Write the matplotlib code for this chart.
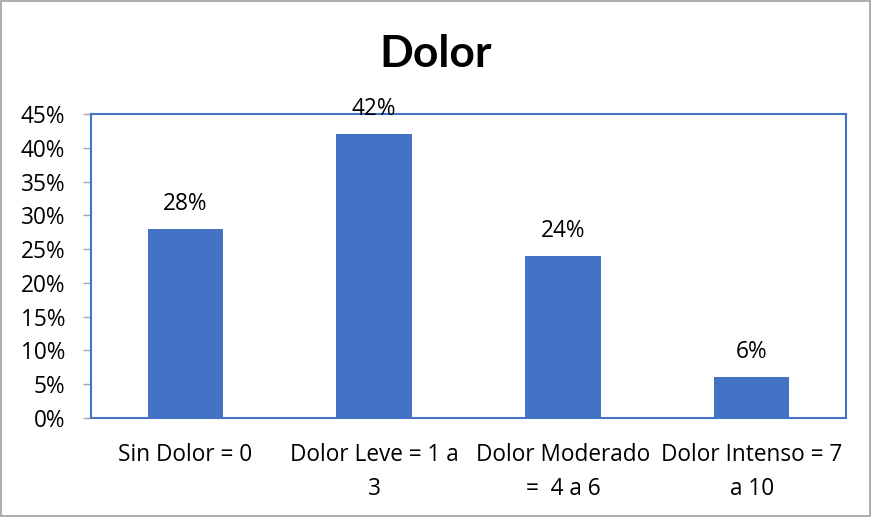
import matplotlib
matplotlib.use("Agg")
import matplotlib.pyplot as plt
from matplotlib.patches import Rectangle
from matplotlib.ticker import PercentFormatter

categories = ["Sin Dolor = 0", "Dolor Leve = 1 a\n3", "Dolor Moderado\n=  4 a 6", "Dolor Intenso = 7\na 10"]
values = [28, 42, 24, 6]
labels = ["28%", "42%", "24%", "6%"]
yticks = [0, 5, 10, 15, 20, 25, 30, 35, 40, 45]

plt.rcParams['font.family'] = ['Open Sans', 'DejaVu Sans']
FS = 16.3

fig = plt.figure(figsize=(8.72, 5.17), dpi=100)
ax = fig.add_axes([91/872, 1-418/517, (846-91)/872, (418-114)/517])

x = list(range(len(categories)))
bars = ax.bar(x, values, width=0.4, color="#4472C4", zorder=2)
ax.set_xlim(-0.5, 3.5)
ax.set_ylim(0, 45)
ax.set_yticks(yticks)
ax.yaxis.set_major_formatter(PercentFormatter(decimals=0))
ax.tick_params(axis='y', direction='out', length=5.5, width=1, color='#A6A6A6', labelsize=FS, pad=13)
ax.tick_params(axis='x', length=0, labelsize=FS, pad=18)
ax.set_xticks(x)
ax.set_xticklabels(categories, linespacing=1.58, va='top')

for s in ax.spines.values():
    s.set_color("#4472C4")
    s.set_linewidth(1.5)

for xi, v, lab in zip(x, values, labels):
    ax.annotate(lab, (xi, v), xytext=(0, 18), textcoords='offset points',
                ha='center', va='center', fontsize=FS, color='black', annotation_clip=False, zorder=5)

fig.text(0.5, 1-54/517, "Dolor", ha='center', va='center', fontsize=32, fontweight='bold', family=['Lato', 'DejaVu Sans'])

fig.patches.append(Rectangle((0.001, 0.002), 0.997, 0.996, transform=fig.transFigure,
                             fill=False, edgecolor='#A0A0A0', linewidth=1.2))

fig.savefig("out.png", dpi=100)
